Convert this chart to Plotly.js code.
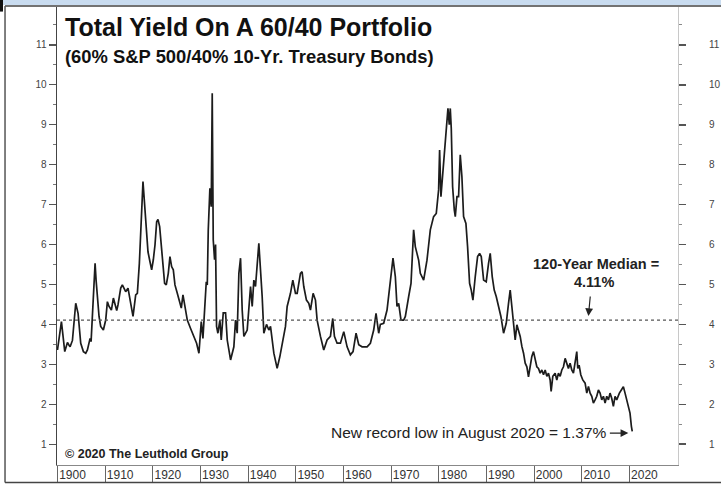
<!DOCTYPE html>
<html>
<head>
<meta charset="utf-8">
<script src="https://cdn.plot.ly/plotly-3.0.1.min.js"></script>
<style>html,body{margin:0;padding:0;background:#fff;}#chart{width:721px;height:485px;}</style>
</head>
<body>
<div id="chart"></div>
<script>
const YEARS = [1900.0,1900.83,1901.53,1902.09,1902.43,1902.65,1903.14,1903.83,1904.32,1904.88,1905.44,1905.93,1906.28,1906.84,1907.05,1907.33,1907.54,1907.89,1908.1,1908.38,1908.72,1909.07,1909.63,1910.12,1910.47,1910.82,1911.31,1911.73,1912.43,1912.7,1913.27,1913.61,1914.31,1914.8,1915.22,1915.85,1916.41,1916.76,1917.18,1917.6,1917.94,1918.29,1918.64,1918.85,1918.99,1919.41,1919.76,1920.11,1920.46,1920.81,1921.09,1921.44,1921.79,1922.13,1922.48,1922.83,1923.25,1923.6,1923.95,1924.3,1924.65,1925.14,1925.49,1925.98,1926.33,1926.75,1927.24,1927.93,1928.63,1929.19,1929.68,1930.17,1930.52,1930.94,1931.22,1931.43,1931.64,1931.98,1932.26,1932.47,1932.68,1932.96,1933.17,1933.38,1933.66,1934.08,1934.36,1934.78,1935.27,1935.62,1936.32,1937.01,1937.36,1937.71,1938.06,1938.41,1938.76,1939.11,1939.81,1940.51,1940.86,1941.2,1941.55,1942.25,1942.6,1942.95,1943.3,1943.86,1944.35,1944.7,1945.4,1946.09,1946.65,1947.14,1947.84,1948.19,1948.89,1949.38,1949.94,1950.29,1950.63,1950.98,1951.33,1951.68,1952.24,1952.73,1953.08,1953.64,1954.13,1954.48,1955.18,1955.87,1956.57,1957.27,1957.76,1958.11,1958.67,1959.37,1960.07,1960.42,1960.77,1961.46,1962.02,1962.65,1963.21,1963.91,1964.96,1965.65,1966.35,1966.84,1967.4,1967.75,1968.45,1969.15,1969.84,1970.4,1970.89,1971.24,1971.59,1972.08,1972.64,1972.99,1973.69,1974.18,1974.73,1975.08,1975.43,1975.78,1976.13,1976.83,1977.53,1978.23,1978.92,1979.48,1979.97,1980.18,1980.46,1980.88,1981.37,1981.72,1981.93,1982.21,1982.42,1982.63,1982.91,1983.26,1983.47,1983.82,1984.16,1984.51,1984.86,1985.21,1985.7,1986.05,1986.47,1986.82,1987.17,1987.66,1988.15,1988.57,1988.92,1989.41,1989.96,1990.45,1990.8,1991.22,1991.64,1992.06,1992.55,1993.04,1993.6,1994.16,1994.64,1994.99,1995.34,1995.69,1996.04,1996.39,1996.74,1997.09,1997.44,1997.79,1998.14,1998.49,1998.83,1999.18,1999.53,1999.88,2000.23,2000.58,2000.93,2001.28,2001.63,2001.98,2002.33,2002.68,2003.02,2003.37,2003.58,2003.93,2004.42,2004.77,2005.12,2005.47,2005.82,2006.17,2006.52,2006.87,2007.21,2007.56,2007.91,2008.26,2008.61,2008.96,2009.17,2009.45,2009.8,2010.22,2010.71,2011.06,2011.41,2011.76,2012.11,2012.45,2012.8,2013.15,2013.5,2013.85,2014.2,2014.55,2014.9,2015.25,2015.6,2015.94,2016.29,2016.64,2016.99,2017.34,2017.9,2018.39,2018.74,2019.09,2019.44,2019.79,2020.13,2020.42,2020.6];
const YIELDS = [3.36,4.07,3.32,3.55,3.48,3.44,3.6,4.53,4.28,3.53,3.32,3.28,3.36,3.65,3.57,4.28,4.53,5.53,5.11,4.61,4.2,3.95,3.86,4.11,4.57,4.45,4.36,4.66,4.35,4.49,4.91,4.99,4.82,4.91,4.61,4.2,4.74,4.78,5.53,6.53,7.58,6.99,6.45,6.12,5.82,5.57,5.37,5.62,5.99,6.57,6.63,6.45,5.95,5.45,5.03,4.99,5.28,5.7,5.45,5.37,4.99,4.78,4.61,4.41,4.74,4.41,4.11,3.9,3.69,3.53,3.28,4.07,3.65,4.49,5.07,4.99,6.37,7.41,6.95,9.79,6.12,5.62,6.0,3.95,3.78,4.11,3.61,4.29,4.29,3.61,3.11,3.44,4.11,3.78,5.28,5.66,4.36,3.7,3.86,4.95,4.45,5.11,4.95,6.03,5.45,4.7,3.78,4.0,3.86,3.95,3.28,2.9,3.19,3.53,3.95,4.45,4.78,5.11,4.78,4.78,5.03,5.28,5.32,4.95,4.61,4.53,4.36,4.78,4.61,4.11,3.7,3.36,3.61,3.7,4.15,3.7,3.53,3.53,3.82,3.61,3.44,3.24,3.32,3.78,3.49,3.44,3.44,3.53,3.86,4.28,3.78,4.0,4.03,4.36,5.03,5.66,5.2,4.45,4.53,4.11,4.11,4.2,4.7,5.03,6.37,5.95,5.78,5.61,5.28,5.11,5.61,6.37,6.7,6.78,7.37,8.37,7.2,7.87,8.54,9.2,9.41,9.0,9.41,8.9,7.45,6.87,6.7,7.2,7.2,8.25,7.7,6.7,6.53,5.95,5.03,4.86,4.61,5.2,5.7,5.78,5.7,5.11,5.07,5.53,5.78,5.2,4.86,4.7,4.45,4.2,3.78,4.03,4.53,4.86,4.45,3.95,3.61,3.99,3.86,3.7,3.45,3.28,3.03,2.94,2.69,2.94,3.2,3.32,3.11,2.94,2.9,2.78,2.86,2.74,2.86,2.7,2.78,2.61,2.32,2.7,2.78,2.61,2.78,2.7,2.86,2.94,3.15,3.03,2.9,3.03,2.86,2.78,3.03,3.32,2.9,2.98,2.74,2.61,2.53,2.28,2.45,2.28,2.2,2.03,2.11,2.2,2.36,2.28,2.11,2.2,2.03,2.2,2.11,2.28,2.15,1.95,2.2,2.11,2.28,2.36,2.44,2.28,2.11,1.9,1.78,1.45,1.32];
const DECADES = [1900,1910,1920,1930,1940,1950,1960,1970,1980,1990,2000,2010,2020];
const DECADE_LABELS = ['1900','1910','1920','1930','1940','1950','1960','1970','1980','1990','2000','2010','2020'];
const Y_TICKS = [1,2,3,4,5,6,7,8,9,10,11];
const Y_TICK_LABELS = ['1','2','3','4','5','6','7','8','9','10','11'];
const Y_MINOR = [1.5,2.5,3.5,4.5,5.5,6.5,7.5,8.5,9.5,10.5,11.5];
const MEDIAN = 4.11;
const LOW_YEAR = 2019.78, LOW_VALUE = 1.28;
const MEDIAN_ARROW_YEAR = 2011.4, MEDIAN_ARROW_VALUE = 4.21;
const TITLE = 'Total Yield On A 60/40 Portfolio';
const SUBTITLE = '(60% S&P 500/40% 10-Yr. Treasury Bonds)';
const MEDIAN_LABEL_1 = '120-Year Median =';
const MEDIAN_LABEL_2 = '4.11%';
const LOW_LABEL = 'New record low in August 2020 = 1.37%';
const COPYRIGHT = '© 2020 The Leuthold Group';

const ARIAL = 'Liberation Sans, Arial, sans-serif';

const traces = [
  {x: YEARS, y: YIELDS, type: 'scatter', mode: 'lines',
   line: {color: '#1c1c1c', width: 1.7}, hoverinfo: 'skip', showlegend: false},
  {x: YEARS, y: YIELDS, type: 'scatter', mode: 'lines', yaxis: 'y2',
   line: {color: 'rgba(0,0,0,0)', width: 0}, hoverinfo: 'skip', showlegend: false}
];

const layout = {
  width: 721, height: 485,
  margin: {l: 57, r: 43, t: 7, b: 20},
  paper_bgcolor: '#ffffff', plot_bgcolor: '#ffffff',
  showlegend: false,
  xaxis: {
    range: [1899.9, 2030.2], tickvals: DECADES, ticktext: DECADE_LABELS,
    ticks: 'outside', ticklen: 17, tickwidth: 1, tickcolor: '#666',
    showline: true, linecolor: '#888', linewidth: 1,
    showgrid: false, zeroline: false,
    tickfont: {family: ARIAL, size: 12, color: '#333'},
    ticklabelstandoff: -18, ticklabelshift: 15
  },
  yaxis: {
    range: [0.48, 11.95], tickvals: Y_TICKS, ticktext: Y_TICK_LABELS,
    ticks: 'outside', ticklen: 7, tickwidth: 1.2, tickcolor: '#555',
    showline: true, linecolor: '#444', linewidth: 1.5,
    showgrid: false, zeroline: false,
    tickfont: {family: ARIAL, size: 10, color: '#444'},
    minor: {tickvals: Y_MINOR, ticks: 'outside', ticklen: 3, tickcolor: '#777', tickwidth: 1}
  },
  yaxis2: {
    overlaying: 'y', side: 'right',
    range: [0.48, 11.95], tickvals: Y_TICKS, ticktext: Y_TICK_LABELS,
    ticks: 'outside', ticklen: 7, tickwidth: 1.5, tickcolor: '#555',
    showline: true, linecolor: '#c8c8c8', linewidth: 1,
    showgrid: false, zeroline: false,
    tickfont: {family: ARIAL, size: 10, color: '#444'},
    ticklabelstandoff: 21,
    minor: {tickvals: Y_MINOR, ticks: 'outside', ticklen: 3, tickcolor: '#888', tickwidth: 1}
  },
  shapes: [
    {type: 'line', xref: 'paper', yref: 'y', x0: 0, x1: 1, y0: MEDIAN, y1: MEDIAN,
     line: {color: '#555', width: 1.2, dash: 'dot'}},
    {type: 'rect', xref: 'paper', yref: 'paper', x0: -0.1, x1: 1.1, y0: 1.0044, y1: 1.03,
     fillcolor: '#c9dcf0', line: {width: 0}},
    {type: 'line', xref: 'paper', yref: 'paper', x0: -0.0837, x1: 1.1, y0: 1.0022, y1: 1.0022,
     line: {color: '#444', width: 1.5}},
    {type: 'line', xref: 'paper', yref: 'paper', x0: -0.0837, x1: -0.0837, y0: -0.0382, y1: 1.0022,
     line: {color: '#555', width: 1.5}},
    {type: 'line', xref: 'paper', yref: 'paper', x0: -0.0837, x1: 1.1, y0: -0.0382, y1: -0.0382,
     line: {color: '#444', width: 1.5}},
    {type: 'rect', xref: 'paper', yref: 'paper', x0: -0.0918, x1: -0.0870, y0: 0.99, y1: 1.03,
     fillcolor: '#111', line: {width: 0}}
  ],
  annotations: [
    {xref: 'paper', yref: 'paper', x: 0.0097, y: 0.9563, xanchor: 'left', yanchor: 'middle',
     text: TITLE, showarrow: false, font: {family: ARIAL, size: 25, color: '#111', weight: 700}},
    {xref: 'paper', yref: 'paper', x: 0.0097, y: 0.893, xanchor: 'left', yanchor: 'middle',
     text: SUBTITLE, showarrow: false, font: {family: ARIAL, size: 18.4, color: '#111', weight: 700}},
    {xref: 'paper', yref: 'paper', x: 0.868, y: 0.4389, xanchor: 'center', yanchor: 'middle',
     text: MEDIAN_LABEL_1, showarrow: false, font: {family: ARIAL, size: 14.5, color: '#222', weight: 700}},
    {xref: 'paper', yref: 'paper', x: 0.865, y: 0.3989, xanchor: 'center', yanchor: 'middle',
     text: MEDIAN_LABEL_2, showarrow: false, font: {family: ARIAL, size: 14.5, color: '#222', weight: 700}},
    {xref: 'x', yref: 'y', x: MEDIAN_ARROW_YEAR, y: MEDIAN_ARROW_VALUE, text: '', showarrow: true,
     ax: 2, ay: -21, arrowhead: 2, arrowsize: 1.3, arrowwidth: 1.2, arrowcolor: '#222', standoff: 0},
    {xref: 'paper', yref: 'paper', x: 0.8889, y: 0.0699, xanchor: 'right', yanchor: 'middle',
     text: LOW_LABEL, showarrow: false, font: {family: ARIAL, size: 15.5, color: '#222'}},
    {xref: 'x', yref: 'y', x: LOW_YEAR, y: LOW_VALUE, text: '', showarrow: true,
     ax: -20, ay: 0, arrowhead: 2, arrowsize: 1.3, arrowwidth: 1.2, arrowcolor: '#222', standoff: 0},
    {xref: 'paper', yref: 'paper', x: 0.0092, y: 0.024, xanchor: 'left', yanchor: 'middle',
     text: COPYRIGHT, showarrow: false, font: {family: ARIAL, size: 12.5, color: '#222', weight: 700}}
  ]
};

Plotly.newPlot('chart', traces, layout, {staticPlot: true, displayModeBar: false});
</script>
</body>
</html>
